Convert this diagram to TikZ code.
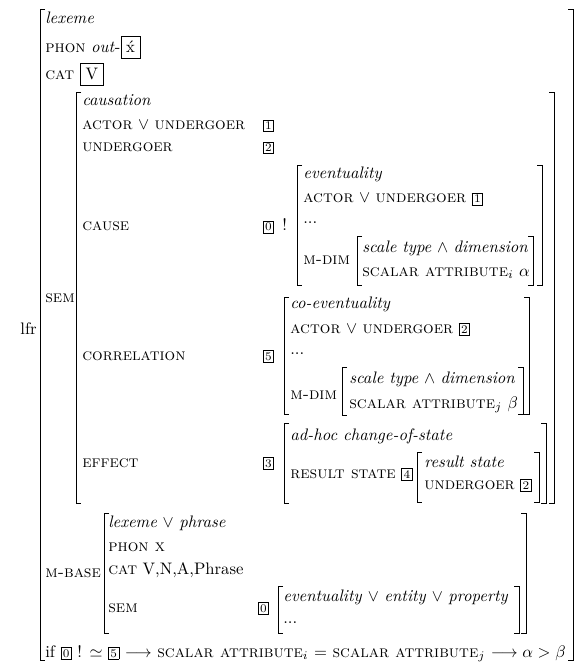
\documentclass[tikz,border=0pt]{standalone}
\usetikzlibrary{positioning}
\newcommand\tagbox[1]{{\setlength\fboxsep{1pt}\fbox{\scriptsize#1}}}

\begin{document}
\begin{tikzpicture}[x=.6pt,y=-.6pt,
  txt/.style={anchor=base west,inner sep=0pt},
  tag/.style={anchor=base west,draw,line width=.4pt,inner sep=1pt,font=\scriptsize},
  valbox/.style={anchor=base west,draw,line width=.4pt,inner sep=3pt},
  brk/.style={line width=.6pt}]
\useasboundingbox (0,0) rectangle (576,665);
% brackets: x/top/bottom
\foreach \x/\t/\b in {40/10/660,76/93/503,297/166/285,357/236/285,284/297/414,
    342/367/415,284/423/503,417/452/502,104/513/633,278/586/633}
  \draw[brk] (\x+5,\t)--(\x,\t)--(\x,\b)--(\x+5,\b);
\foreach \x/\t/\b in {573/10/660,554/93/503,542/166/285,533/236/285,529/297/414,
    523/367/414,546/423/503,539/452/502,526/513/633,519/586/633}
  \draw[brk] (\x-5,\t)--(\x,\t)--(\x,\b)--(\x-5,\b);
\node[anchor=base east,inner sep=0pt] (lfr) at (37,334) {lfr};
% lexeme part
\node[txt] (lex) at (45,24) {\textit{lexeme}};
\node[txt] (phon) at (45,53) {\textsc{phon} \textit{out}-};
\node[valbox] (phonv) at (phon.base east) {\'x};
\node[txt] (cat) at (45,80) {\textsc{cat}};
\node[valbox,xshift=3.5pt] (catv) at (cat.base east) {V};
% sem
\node[txt] (sem) at (45,302) {\textsc{sem}};
\node[txt] (causn) at (82,106) {\textit{causation}};
\node[txt] (au) at (82,130) {\textsc{actor} $\vee$ \textsc{undergoer}};
\node[tag] (t1) at (263,130) {1};
\node[txt] (ug) at (82,152) {\textsc{undergoer}};
\node[tag] (t2) at (263,152) {2};
\node[txt] (cause) at (82,231) {\textsc{cause}};
\node[tag] (t0) at (263,231) {0};
\node[txt] (bang) at (282,231) {!};
\node[txt] (ev) at (303,179) {\textit{eventuality}};
\node[txt] (evau) at (303,203) {\textsc{actor} $\vee$ \textsc{undergoer} \tagbox{1}};
\node[txt] (evdots) at (303,224) {...};
\node[txt] (evmdim) at (303,264) {\textsc{m-dim}};
\node[txt] (evst) at (362,253) {\textit{scale type} $\wedge$ \textit{dimension}};
\node[txt] (evsa) at (362,276) {\textsc{scalar attribute}$_i$ $\alpha$};
\node[txt] (corr) at (82,360) {\textsc{correlation}};
\node[tag] (t5) at (263,360) {5};
\node[txt] (coev) at (290,308) {\textit{co-eventuality}};
\node[txt] (coau) at (290,333) {\textsc{actor} $\vee$ \textsc{undergoer} \tagbox{2}};
\node[txt] (codots) at (290,354) {...};
\node[txt] (comdim) at (290,399) {\textsc{m-dim}};
\node[txt] (cost) at (349,383) {\textit{scale type} $\wedge$ \textit{dimension}};
\node[txt] (cosa) at (349,408) {\textsc{scalar attribute}$_j$ $\beta$};
\node[txt] (eff) at (82,467) {\textsc{effect}};
\node[tag] (t3) at (263,467) {3};
\node[txt] (adhoc) at (290,440) {\textit{ad-hoc change-of-state}};
\node[txt] (rs) at (290,478) {\textsc{result state} \tagbox{4}};
\node[txt] (rsv) at (424,467) {\textit{result state}};
\node[txt] (rsug) at (424,489) {\textsc{undergoer} \tagbox{2}};
% m-base
\node[txt] (mbase) at (45,577) {\textsc{m-base}};
\node[txt] (lp) at (108,527) {\textit{lexeme} $\vee$ \textit{phrase}};
\node[txt] (mphon) at (108,551) {\textsc{phon x}};
\node[txt] (mcat) at (108,574) {\textsc{cat} V,N,A,Phrase};
\node[txt] (msem) at (108,612) {\textsc{sem}};
\node[tag] (t0b) at (258,612) {0};
\node[txt] (eep) at (283,601) {\textit{eventuality} $\vee$ \textit{entity} $\vee$ \textit{property}};
\node[txt] (mdots) at (283,623) {...};
% condition
\node[txt] (cond) at (45,657) {if \tagbox{0} ! $\simeq$ \tagbox{5} $\longrightarrow$
  \textsc{scalar attribute}$_i$ $=$ \textsc{scalar attribute}$_j$ $\longrightarrow \alpha > \beta$};
\end{tikzpicture}
\end{document}
